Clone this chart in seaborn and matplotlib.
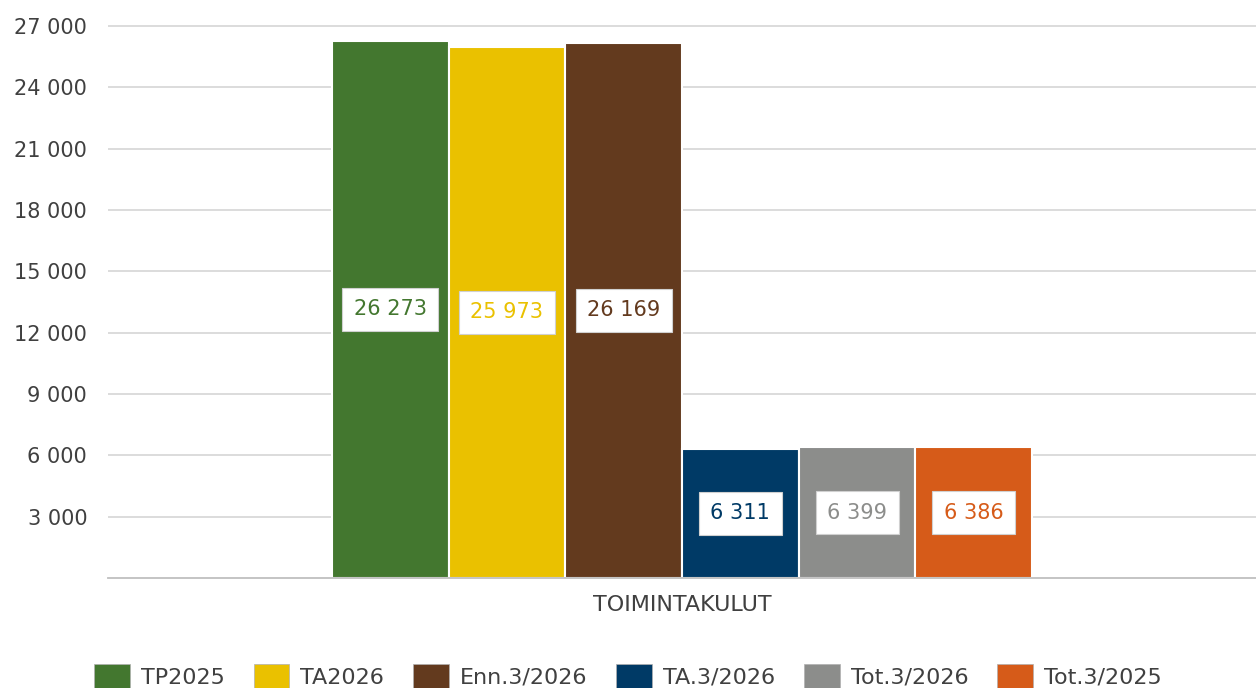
import matplotlib
matplotlib.use("Agg")
import matplotlib.pyplot as plt
import numpy as np
import pandas as pd
import seaborn as sns

CATEGORY = "TOIMINTAKULUT"
SERIES = ["TP2025", "TA2026", "Enn.3/2026", "TA.3/2026", "Tot.3/2026", "Tot.3/2025"]
VALUES = [26273, 25973, 26169, 6311, 6399, 6386]
COLORS = ["#43772F", "#EAC100", "#633A1E", "#003A66", "#8C8D8B", "#D65B19"]
Y_TICKS = [3000, 6000, 9000, 12000, 15000, 18000, 21000, 24000, 27000]


def fmt_thousands(v):
    return f"{v:,.0f}".replace(",", " ")


def main():
    df = pd.DataFrame({"kategoria": [CATEGORY] * len(SERIES), "sarja": SERIES, "arvo": VALUES})

    sns.set_theme(style="white")
    plt.rcParams["font.family"] = ["DejaVu Sans"]

    fig = plt.figure(figsize=(12.56, 6.88), dpi=100)
    ax = fig.add_axes([0.086, 0.16, 0.914, 0.811])

    sns.barplot(
        data=df, x="kategoria", y="arvo", hue="sarja", hue_order=SERIES,
        palette=COLORS, width=0.61, edgecolor="white", linewidth=1.5,
        saturation=1, ax=ax, legend=True,
    )

    ax.set_xlim(-0.5, 0.5)
    ax.set_ylim(0, 27300)
    ax.set_yticks(Y_TICKS)
    ax.set_yticklabels([fmt_thousands(t) for t in Y_TICKS], color="#404040", fontsize=15)
    ax.tick_params(axis="y", length=0, pad=15)
    ax.tick_params(axis="x", length=0, pad=12, labelsize=16, labelcolor="#404040")
    ax.set_xlabel("")
    ax.set_ylabel("")
    ax.yaxis.grid(True, color="#D9D9D9", linewidth=1.3)
    ax.set_axisbelow(True)
    for side in ["top", "right", "left"]:
        ax.spines[side].set_visible(False)
    ax.spines["bottom"].set_color("#BFBFBF")
    ax.spines["bottom"].set_linewidth(1.3)

    # value labels in white boxes, text coloured like the bar
    for container, color in zip(ax.containers, COLORS):
        texts = ax.bar_label(container, labels=[fmt_thousands(b.get_height()) for b in container],
                             label_type="center", fontsize=15, color=color)
        for t in texts:
            t.set_bbox(dict(boxstyle="square,pad=0.55", facecolor="white", edgecolor="#D0D0D0", linewidth=0.8))

    ax.legend_.remove()
    handles = [plt.Rectangle((0, 0), 1, 1, facecolor=c, edgecolor="#B0B0B0", linewidth=0.5) for c in COLORS]
    fig.legend(handles, SERIES, loc="lower center", bbox_to_anchor=(0.5, -0.03), ncol=6,
               frameon=False, fontsize=16, handlelength=1.6, handleheight=1.3,
               handletextpad=0.5, columnspacing=1.3, labelcolor="#404040")

    fig.savefig("out.png", dpi=100)
    plt.close(fig)


if __name__ == "__main__":
    main()
